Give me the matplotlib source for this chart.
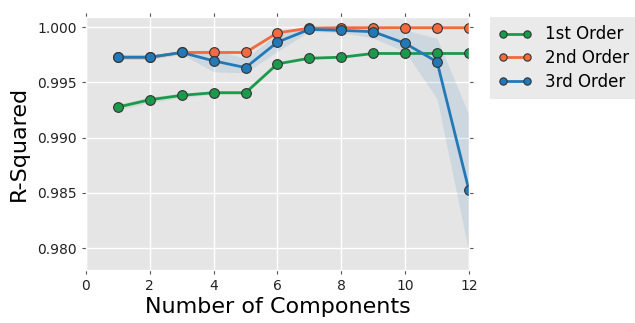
import numpy as np
import matplotlib
matplotlib.use("Agg")
import matplotlib.pyplot as plt

plt.style.use("ggplot")

components = [1, 2, 3, 4, 5, 6, 7, 8, 9, 10, 11, 12]

# mean R-squared per polynomial order
r2_first = [0.99276, 0.99342, 0.99382, 0.99406, 0.99406, 0.99667,
            0.99718, 0.99727, 0.99761, 0.99761, 0.99761, 0.99761]
r2_second = [0.99727, 0.99727, 0.99770, 0.99770, 0.99770, 0.99948,
             0.99990, 0.99994, 0.99994, 0.99994, 0.99994, 0.99994]
r2_third = [0.99727, 0.99727, 0.99770, 0.99694, 0.99633, 0.99864,
            0.99979, 0.99970, 0.99958, 0.99852, 0.99685, 0.98521]

# spread around each mean
band_first = [0.00025, 0.00025, 0.0002, 0.00015, 0.00015, 0.0001,
              0.0001, 0.0001, 0.0001, 0.0001, 0.0001, 0.0001]
band_second = [0.0002, 0.0002, 0.0001, 0.0001, 0.0001, 0.00005,
               0.00003, 0.00003, 0.00003, 0.00003, 0.00003, 0.00003]
third_lo = [0.99707, 0.99707, 0.99755, 0.99595, 0.99586, 0.99780,
            0.99960, 0.99950, 0.99900, 0.99777, 0.99350, 0.97955]
third_hi = [0.99747, 0.99747, 0.99785, 0.99792, 0.99717, 0.99940,
            0.99995, 0.99990, 0.99990, 0.99973, 0.99898, 0.99204]

labels = ["1st Order", "2nd Order", "3rd Order"]
colors = ["#1c9a4c", "#f26a3d", "#2279b8"]

fig = plt.figure(figsize=(6.35, 3.23), dpi=100)
ax = fig.add_axes([0.1354, 0.164, 0.6032, 0.783])

x = np.array(components)
means = [np.array(r2_first), np.array(r2_second), np.array(r2_third)]
lows = [means[0] - band_first, means[1] - band_second, np.array(third_lo)]
highs = [means[0] + band_first, means[1] + band_second, np.array(third_hi)]

for m, lo, hi, c in zip(means, lows, highs, colors):
    ax.fill_between(x, lo, hi, color=c, alpha=0.12, linewidth=0)

for m, c, lab in zip(means, colors, labels):
    ax.plot(x, m, color=c, lw=2, marker="o", ms=7, mfc=c,
            mec="#333333", mew=0.8, label=lab)

ax.set_xlim(0, 12)
ax.set_ylim(0.97801, 1.0009)
ax.set_xticks([0, 2, 4, 6, 8, 10, 12])
ax.set_yticks([0.980, 0.985, 0.990, 0.995, 1.000])
ax.yaxis.set_major_formatter(matplotlib.ticker.FormatStrFormatter("%.3f"))
ax.tick_params(direction="out", top=True, right=True, length=3,
               colors="#555555", labelsize=10, labelcolor="#222222")
ax.grid(True, color="white", lw=1)
ax.set_facecolor("#e5e5e5")

ax.set_xlabel("Number of Components", fontsize=16, color="black", labelpad=3)
ax.set_ylabel("R-Squared", fontsize=16, color="black", labelpad=6)

leg = ax.legend(loc="upper left", bbox_to_anchor=(1.055, 1.0),
                borderaxespad=0, fontsize=12, frameon=True, fancybox=False,
                facecolor="#e5e5e5", edgecolor="none", handlelength=2,
                numpoints=2, markerscale=0.75, labelspacing=0.35,
                borderpad=0.5)

fig.savefig("out.png", dpi=100, facecolor="white")
